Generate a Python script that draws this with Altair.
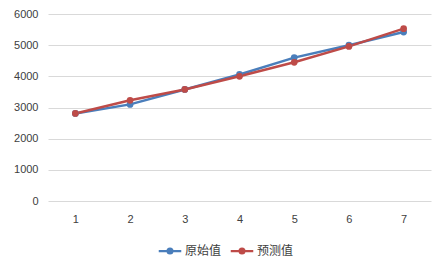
import altair as alt
import pandas as pd

categories = [1, 2, 3, 4, 5, 6, 7]
original = [2810, 3100, 3580, 4060, 4600, 5000, 5420]
predicted = [2810, 3230, 3580, 4000, 4450, 4960, 5530]
series_names = ["原始值", "预测值"]
y_ticks = [0, 1000, 2000, 3000, 4000, 5000, 6000]

rows = []
for c, o, p in zip(categories, original, predicted):
    rows.append({"x": c, "series": series_names[0], "value": o})
    rows.append({"x": c, "series": series_names[1], "value": p})
df = pd.DataFrame(rows)

colors = ["#4A7EBB", "#BE4B48"]

legend_symbol = "M-1.3,0H1.3M-0.28,0A0.28,0.28 0 1,0 0.28,0A0.28,0.28 0 1,0 -0.28,0Z"

chart = alt.Chart(df).mark_line(
    strokeWidth=2.5,
    point=alt.OverlayMarkDef(size=45, filled=True),
).encode(
    x=alt.X("x:O", title=None, axis=alt.Axis(labelAngle=0, domain=False, ticks=False,
                                              labelPadding=12, grid=False)),
    y=alt.Y("value:Q", title=None, scale=alt.Scale(domain=[0, 6000], nice=False),
            axis=alt.Axis(values=y_ticks, format="d", domain=False, ticks=False,
                          labelPadding=10, gridColor="#D9D9D9", gridWidth=1)),
    color=alt.Color("series:N", sort=series_names,
                    scale=alt.Scale(domain=series_names, range=colors),
                    legend=alt.Legend(title=None, orient="none", direction="horizontal",
                                      legendX=112, legendY=227,
                                      symbolType=legend_symbol, symbolSize=300,
                                      symbolStrokeWidth=2.2, columnPadding=4,
                                      labelFont="Noto Sans CJK SC", labelFontSize=12,
                                      labelColor="#404040", labelOffset=5)),
).properties(
    width=383, height=187,
    padding={"left": 40, "top": 6, "right": 9, "bottom": 62},
    autosize=alt.AutoSizeParams(type="none"),
).configure_view(
    stroke=None
).configure_axis(
    labelFont="Liberation Sans", labelFontSize=11, labelColor="#404040"
)

chart.save("out.html", embed_options={"renderer": "svg", "actions": False})
